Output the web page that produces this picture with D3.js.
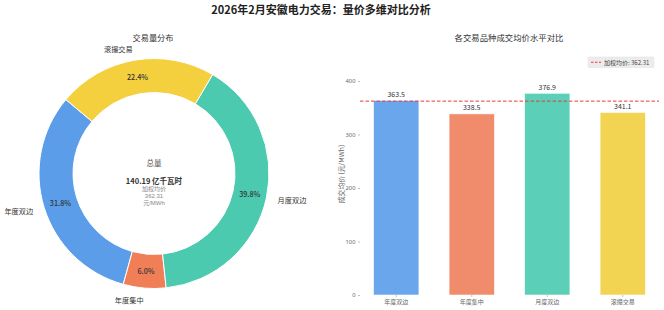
<!DOCTYPE html>
<html>
<head>
<meta charset="utf-8">
<script src="https://cdn.jsdelivr.net/npm/d3@7"></script>
<style>
  body { margin: 0; background: #fff; }
  svg { display: block; font-family: "Noto Sans CJK SC", "Noto Sans", sans-serif; }
</style>
</head>
<body>
<div id="chart"></div>
<script>
// trade categories and figures, Feb 2026 Anhui
const categories = ["年度双边", "年度集中", "月度双边", "滚撮交易"];
const volumes = [44.58, 8.41, 55.80, 31.40];        // 亿千瓦时
const prices = [363.5, 338.5, 376.9, 341.1];        // 元/MWh
const totalVolume = 140.19;
const weightedAvg = 362.31;
const yTicks = [0, 100, 200, 300, 400];

const pieColors = ["#5b9de8", "#f07f58", "#4ccab0", "#f4d03f"];
const barColors = ["#6aa6ec", "#f08c6c", "#5ccfb8", "#f3d452"];

const width = 664, height = 310;

const svg = d3.select("#chart").append("svg")
  .attr("width", width)
  .attr("height", height);

// main title
svg.append("text")
  .attr("x", 321).attr("y", 13.5)
  .attr("text-anchor", "middle")
  .attr("font-size", 11).attr("font-weight", "bold")
  .attr("fill", "#222")
  .text("2026年2月安徽电力交易：量价多维对比分析");

// ---------- donut ----------
const cx = 154, cy = 173.5, rOuter = 115, rInner = 81;

svg.append("text")
  .attr("x", 153).attr("y", 41)
  .attr("text-anchor", "middle")
  .attr("font-size", 8.2).attr("fill", "#333")
  .text("交易量分布");

const start = 310 * Math.PI / 180;
const pie = d3.pie().sort(null).startAngle(start).endAngle(start - 2 * Math.PI);
const arcs = pie(volumes);
const arc = d3.arc().innerRadius(rInner).outerRadius(rOuter);

const donut = svg.append("g").attr("transform", `translate(${cx},${cy})`);

donut.selectAll("path")
  .data(arcs)
  .join("path")
  .attr("d", arc)
  .attr("fill", (d, i) => pieColors[i])
  .attr("stroke", "#fff")
  .attr("stroke-width", 1);

const total = d3.sum(volumes);
const midAngle = d => (d.startAngle + d.endAngle) / 2;

// percent labels in the ring
donut.selectAll("text.pct")
  .data(arcs)
  .join("text")
  .attr("class", "pct")
  .attr("x", d => Math.sin(midAngle(d)) * (rInner + rOuter) / 2)
  .attr("y", d => -Math.cos(midAngle(d)) * (rInner + rOuter) / 2)
  .attr("text-anchor", "middle")
  .attr("dominant-baseline", "central")
  .attr("font-size", 7.2).attr("font-weight", 500)
  .attr("fill", "#333")
  .text(d => (d.value / total * 100).toFixed(1) + "%");

// category labels outside
donut.selectAll("text.cat")
  .data(arcs)
  .join("text")
  .attr("class", "cat")
  .attr("x", d => Math.sin(midAngle(d)) * rOuter * 1.1)
  .attr("y", d => -Math.cos(midAngle(d)) * rOuter * 1.1)
  .attr("text-anchor", d => Math.sin(midAngle(d)) > 0 ? "start" : "end")
  .attr("dominant-baseline", "central")
  .attr("font-size", 7.2)
  .attr("fill", "#333")
  .text((d, i) => categories[i]);

// center text
const center = svg.append("g").attr("text-anchor", "middle");
center.append("text")
  .attr("x", cx).attr("y", 162).attr("dominant-baseline", "central")
  .attr("font-size", 7.5).attr("fill", "#555").text("总量");
center.append("text")
  .attr("x", cx).attr("y", 180).attr("dominant-baseline", "central")
  .attr("font-size", 7.5).attr("font-weight", "bold").attr("fill", "#333")
  .text(`${totalVolume.toFixed(2)} 亿千瓦时`);

// three-line note, compact latin font first so the lines keep tight boxes
["加权均价", weightedAvg.toFixed(2), "元/MWh"].forEach((t, i) => {
  center.append("text")
    .attr("x", cx).attr("y", 191 + i * 7)
    .attr("font-family", "'Liberation Sans', 'Noto Sans CJK SC', sans-serif")
    .attr("font-size", 6).attr("fill", "#888")
    .text(t);
});

// ---------- bar chart ----------
const plot = {left: 360, right: 659, top: 53, bottom: 295};

svg.append("text")
  .attr("x", 509).attr("y", 41)
  .attr("text-anchor", "middle")
  .attr("font-size", 8.4).attr("fill", "#333")
  .text("各交易品种成交均价水平对比");

const x = d3.scaleBand()
  .domain(categories)
  .range([plot.left, plot.right])
  .paddingInner(0.4)
  .paddingOuter(0.18);

const y = d3.scaleLinear()
  .domain([0, d3.max(prices) * 1.2])
  .range([plot.bottom, plot.top]);

svg.append("g")
  .selectAll("rect")
  .data(prices)
  .join("rect")
  .attr("x", (d, i) => x(categories[i]))
  .attr("y", d => y(d))
  .attr("width", x.bandwidth())
  .attr("height", d => y(0) - y(d))
  .attr("fill", (d, i) => barColors[i])
  .attr("stroke", "#fff")
  .attr("stroke-opacity", 0.7)
  .attr("stroke-width", 0.8);

svg.append("g")
  .selectAll("text")
  .data(prices)
  .join("text")
  .attr("x", (d, i) => x(categories[i]) + x.bandwidth() / 2)
  .attr("y", d => y(d) - 3.5)
  .attr("text-anchor", "middle")
  .attr("font-size", 7).attr("fill", "#333")
  .text(d => d.toFixed(1));

// weighted average line
svg.append("line")
  .attr("x1", plot.left).attr("x2", plot.right)
  .attr("y1", y(weightedAvg)).attr("y2", y(weightedAvg))
  .attr("stroke", "#e8393a")
  .attr("stroke-width", 1)
  .attr("stroke-dasharray", "3.5,2");

// axes
const yAxis = svg.append("g")
  .attr("transform", `translate(${plot.left},0)`)
  .call(d3.axisLeft(y).tickValues(yTicks).tickSize(2).tickPadding(2.5));
yAxis.select(".domain").remove();
yAxis.selectAll("line").attr("stroke", "#999").attr("stroke-width", 0.6);
yAxis.selectAll("text").attr("font-size", 5.8).attr("fill", "#666")
  .attr("font-family", "'Noto Sans', sans-serif");

const xAxis = svg.append("g")
  .attr("transform", `translate(0,${plot.bottom})`)
  .call(d3.axisBottom(x).tickSize(2).tickPadding(2.5));
xAxis.select(".domain").remove();
xAxis.selectAll("line").attr("stroke", "#999").attr("stroke-width", 0.6);
xAxis.selectAll("text").attr("font-size", 6).attr("fill", "#666")
  .attr("font-family", "'Noto Sans CJK SC', sans-serif");

svg.append("text")
  .attr("transform", `translate(341,${(plot.top + plot.bottom) / 2}) rotate(-90)`)
  .attr("text-anchor", "middle")
  .attr("dominant-baseline", "central")
  .attr("font-size", 6.8).attr("fill", "#666")
  .text("成交均价 (元/MWh)");

// legend
const legend = svg.append("g").attr("transform", "translate(588,57)");
legend.append("rect")
  .attr("width", 66).attr("height", 10.5)
  .attr("rx", 1)
  .attr("fill", "#ececec")
  .attr("stroke", "#e0e0e0").attr("stroke-width", 0.5);
legend.append("line")
  .attr("x1", 3).attr("x2", 13).attr("y1", 5.25).attr("y2", 5.25)
  .attr("stroke", "#e8393a").attr("stroke-width", 1)
  .attr("stroke-dasharray", "2.5,1.5");
legend.append("text")
  .attr("x", 16).attr("y", 5.5)
  .attr("dominant-baseline", "central")
  .attr("font-size", 6).attr("fill", "#444")
  .text(`加权均价: ${weightedAvg.toFixed(2)}`);
</script>
</body>
</html>
